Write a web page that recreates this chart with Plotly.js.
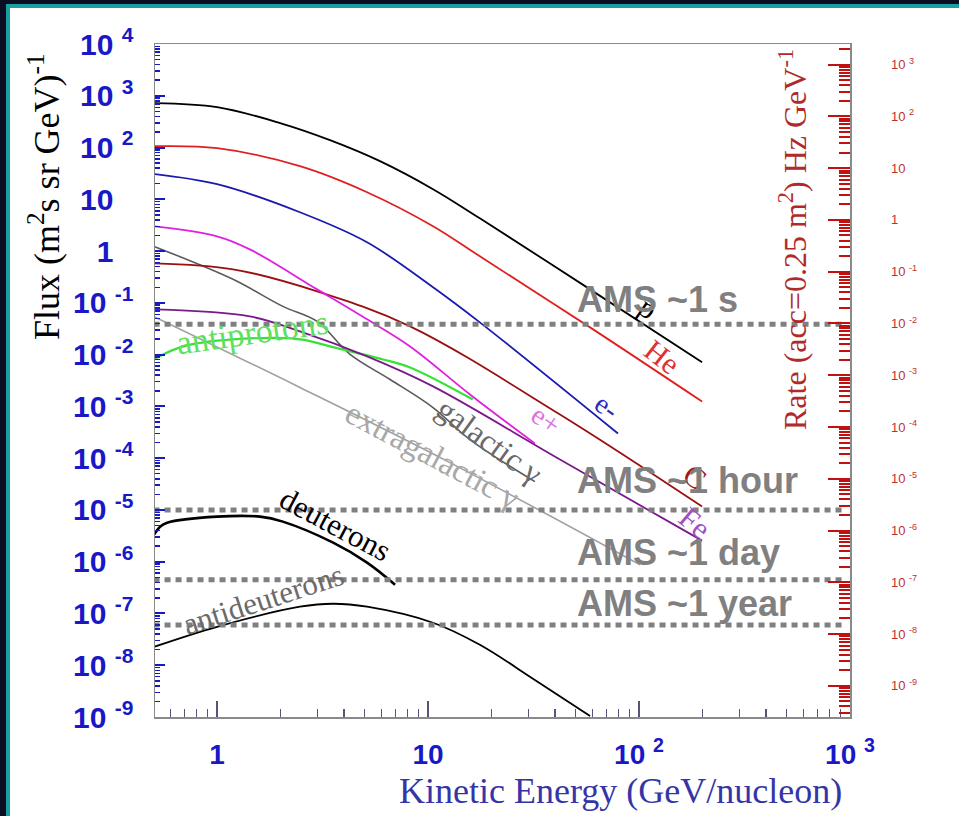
<!DOCTYPE html>
<html>
<head>
<meta charset="utf-8">
<script src="https://cdn.plot.ly/plotly-3.0.1.min.js"></script>
<style>
  html, body { margin: 0; padding: 0; background: #ffffff; }
  #chart { width: 959px; height: 816px; }
</style>
</head>
<body>
<div id="chart"></div>
<script>
// Cosmic-ray fluxes versus kinetic energy (GeV/nucleon)
const energyProton = [0.5, 1, 1.99, 3.43, 5.92, 10.56, 17.6, 58.6, 199];
const fluxProton   = [723, 604, 297, 139, 54.6, 15.7, 4.3, 0.182, 0.0071];

const energyHelium = [0.5, 1, 2.47, 5.14, 10.56, 17.6, 58.6, 199];
const fluxHelium   = [106, 97.3, 43.6, 13.7, 3.02, 0.792, 0.0336, 0.00124];

const energyElectron = [0.5, 1, 2.47, 5.14, 10.56, 17.6, 79.5];
const fluxElectron   = [31, 19.6, 5.62, 1.48, 0.2, 0.042, 2.99e-4];

const energyPositron = [0.5, 1, 1.43, 2.98, 5.14, 8.22, 15.8, 32.1];
const fluxPositron   = [3.02, 1.93, 1.08, 0.182, 0.048, 0.0144, 0.0017, 1.92e-4];

const energyCarbon = [0.5, 1.19, 2.98, 8.22, 42.2, 199];
const fluxCarbon   = [0.581, 0.445, 0.167, 0.0351, 6.97e-4, 1.16e-5];

const energyIron = [0.5, 1.43, 2.47, 5.14, 10.56, 42.2, 199];
const fluxIron   = [0.0748, 0.0548, 0.0281, 0.00923, 0.00243, 9.4e-5, 2.55e-6];

const energyAntiproton = [0.5, 0.69, 1.19, 2.47, 3.43, 6.12, 8.22, 16.3];
const fluxAntiproton   = [0.00807, 0.0144, 0.0197, 0.0197, 0.0144, 0.00807, 0.00565, 0.00136];

const energyGalGamma = [0.5, 1.19, 2.05, 2.98, 4.27, 6.61, 10.56, 15.8, 32.1];
const fluxGalGamma   = [1.24, 0.285, 0.0855, 0.0438, 0.0101, 0.00331, 9.5e-4, 2.29e-4, 3.52e-5];

const energyExGamma = [0.5, 2.47, 12.7, 101];
const fluxExGamma   = [0.0548, 0.00232, 8.2e-5, 8.75e-7];

const energyDeuteron = [0.503, 0.537, 0.58, 1, 1.6, 2.05, 3.55, 5.14, 6.98];
const fluxDeuteron   = [3.33e-6, 4.75e-6, 5.67e-6, 7.41e-6, 7.41e-6, 5.94e-6, 2.33e-6, 9.6e-7, 3.59e-7];

const energyAntiDeuteron = [0.503, 1, 2.47, 3.55, 5.14, 10.56, 17.6, 32.1, 58.6];
const fluxAntiDeuteron   = [2.27e-8, 5.53e-8, 1.35e-7, 1.54e-7, 1.35e-7, 6.61e-8, 2.48e-8, 5.2e-9, 1.05e-9];

// AMS exposure levels (flux reachable in a given time)
const amsLabels = ['AMS ~1 s', 'AMS ~1 hour', 'AMS ~1 day', 'AMS ~1 year'];
const amsFlux   = [0.0384, 1.0e-5, 4.5e-7, 6.0e-8];
const amsEnergySpan = [0.5, 930];

// Axis ticks
const xTickVals = [1, 10, 100, 1000];
const xTickText = ['1', '10', '10 <sup>2</sup>', '10 <sup>3</sup>'];
const yTickVals = [1e4, 1e3, 1e2, 1e1, 1, 1e-1, 1e-2, 1e-3, 1e-4, 1e-5, 1e-6, 1e-7, 1e-8, 1e-9];
const blankSup = "<sup><span style='color:#ffffff'>4</span></sup>";
const yTickText = ['10 <sup>4</sup>', '10 <sup>3</sup>', '10 <sup>2</sup>', '10 ' + blankSup, '1 ' + blankSup,
  '10 <sup>-1</sup>', '10 <sup>-2</sup>', '10 <sup>-3</sup>', '10 <sup>-4</sup>', '10 <sup>-5</sup>',
  '10 <sup>-6</sup>', '10 <sup>-7</sup>', '10 <sup>-8</sup>', '10 <sup>-9</sup>'];
const rateTickVals = [1e3, 1e2, 1e1, 1, 1e-1, 1e-2, 1e-3, 1e-4, 1e-5, 1e-6, 1e-7, 1e-8, 1e-9];
const rateTickText = ['10 <sup>3</sup>', '10 <sup>2</sup>', '10', '1', '10 <sup>-1</sup>', '10 <sup>-2</sup>',
  '10 <sup>-3</sup>', '10 <sup>-4</sup>', '10 <sup>-5</sup>', '10 <sup>-6</sup>', '10 <sup>-7</sup>',
  '10 <sup>-8</sup>', '10 <sup>-9</sup>'];
const acceptance = 0.25; // m^2 sr, converts flux to rate

function curve(x, y, color, width) {
  return {
    type: 'scatter', mode: 'lines', x: x, y: y, hoverinfo: 'skip',
    line: { color: color, width: width, shape: 'spline', smoothing: 1.0 }
  };
}

const traces = [
  curve(energyExGamma, fluxExGamma, '#a0a0a0', 1.6),
  curve(energyGalGamma, fluxGalGamma, '#5a5a5a', 1.6),
  curve(energyAntiproton, fluxAntiproton, '#38e038', 2.2),
  curve(energyIron, fluxIron, '#7a1a8a', 1.8),
  curve(energyCarbon, fluxCarbon, '#9a1010', 1.8),
  curve(energyPositron, fluxPositron, '#e020e0', 1.8),
  curve(energyElectron, fluxElectron, '#1a1ab0', 1.8),
  curve(energyHelium, fluxHelium, '#e02020', 1.8),
  curve(energyProton, fluxProton, '#000000', 1.8),
  curve(energyDeuteron, fluxDeuteron, '#000000', 2.6),
  curve(energyAntiDeuteron, fluxAntiDeuteron, '#000000', 1.8)
];

amsFlux.forEach(function (f) {
  traces.push({
    type: 'scatter', mode: 'lines', hoverinfo: 'skip',
    x: amsEnergySpan, y: [f, f],
    line: { color: '#808080', width: 5, dash: '6px,5px' }
  });
});

// right-hand rate axis carrier
traces.push({ type: 'scatter', mode: 'lines', x: [], y: [], yaxis: 'y2', hoverinfo: 'skip' });

const L = 155, R = 850, T = 44, B = 717;
const px = function (v) { return (v - L) / (R - L); };
const py = function (v) { return (B - v) / (B - T); };

const serif = 'Liberation Serif, Times New Roman, serif';
const sans = 'Liberation Sans, Arial, sans-serif';

function label(text, xlog, ylog, color, size, angle) {
  return {
    xref: 'x', yref: 'y', x: xlog, y: ylog, text: text, showarrow: false,
    textangle: angle, xanchor: 'center', yanchor: 'middle',
    font: { family: serif, size: size, color: color }
  };
}
function amsLabel(text, ylog) {
  return {
    xref: 'x', yref: 'y', x: 1.697, y: ylog, text: text, showarrow: false,
    xanchor: 'left', yanchor: 'middle',
    font: { family: sans, size: 36, color: '#808080', weight: 'bold' }
  };
}

const annotations = [
  label('p', 2.043, -1.087, '#000000', 30, 35),
  label('He', 2.109, -2.035, '#e03030', 30, 38),
  label('e-', 1.848, -3.002, '#2a2ac0', 28, 35),
  label('e+', 1.559, -3.253, '#e070e0', 28, 35),
  label('C', 2.265, -4.356, '#a01818', 30, 35),
  label('Fe', 2.265, -5.246, '#a050c0', 30, 40),
  label('galactic \u03b3', 1.294, -3.660, '#6a6a6a', 32, 36),
  label('extragalactic \u03b3', 1.019, -3.930, '#a8a8a8', 33, 28),
  label('antiprotons', 0.166, -1.571, '#60e060', 34, -8),
  label('deuterons', 0.559, -5.284, '#000000', 31, 28),
  label('antideuterons', 0.218, -6.735, '#6a6a6a', 31, -18),
  amsLabel(amsLabels[0], -0.932),
  amsLabel(amsLabels[1], -4.433),
  amsLabel(amsLabels[2], -5.826),
  amsLabel(amsLabels[3], -6.812),
  {
    xref: 'paper', yref: 'paper', x: px(45), y: py(197), textangle: -90, showarrow: false,
    xanchor: 'center', yanchor: 'middle',
    text: 'Flux (m<sup>2</sup>s sr GeV)<sup>-1</sup>',
    font: { family: serif, size: 36, color: '#000000' }
  },
  {
    xref: 'paper', yref: 'paper', x: px(620), y: py(791), showarrow: false,
    xanchor: 'center', yanchor: 'middle',
    text: 'Kinetic Energy (GeV/nucleon)',
    font: { family: serif, size: 36, color: '#3535a8' }
  },
  {
    xref: 'paper', yref: 'paper', x: px(793), y: py(240), textangle: -90, showarrow: false,
    xanchor: 'center', yanchor: 'middle',
    text: 'Rate (acc=0.25 m<sup>2</sup>) Hz GeV<sup>-1</sup>',
    font: { family: serif, size: 32, color: '#b02a2a' }
  }
];

// dark and teal frame along the left and top edges
const shapes = [
  { type: 'rect', xref: 'paper', yref: 'paper', x0: px(0), x1: px(6), y0: py(816), y1: py(0), fillcolor: '#0b0d22', line: { width: 0 }, layer: 'below' },
  { type: 'rect', xref: 'paper', yref: 'paper', x0: px(6), x1: px(10), y0: py(816), y1: py(4), fillcolor: '#1a9ea0', line: { width: 0 }, layer: 'below' },
  { type: 'rect', xref: 'paper', yref: 'paper', x0: px(0), x1: px(959), y0: py(4), y1: py(0), fillcolor: '#0b0d22', line: { width: 0 }, layer: 'below' },
  { type: 'rect', xref: 'paper', yref: 'paper', x0: px(6), x1: px(959), y0: py(8), y1: py(4), fillcolor: '#1a9ea0', line: { width: 0 }, layer: 'below' }
];

const layout = {
  width: 959, height: 816,
  margin: { l: L, r: 959 - R, t: T, b: 816 - B, pad: 0 },
  paper_bgcolor: '#ffffff', plot_bgcolor: '#ffffff',
  showlegend: false,
  xaxis: {
    type: 'log', range: [Math.log10(0.508), 3],
    showgrid: false, zeroline: false,
    showline: true, mirror: true, linecolor: '#8a8a8a', linewidth: 1.5,
    ticks: 'inside', ticklen: 16, tickwidth: 1.5, tickcolor: '#55557a',
    tickmode: 'array', tickvals: xTickVals, ticktext: xTickText,
    ticklabelstandoff: 12,
    tickfont: { family: sans, size: 28, color: '#1818c8', weight: 'bold' },
    minor: { ticks: 'inside', ticklen: 8, tickwidth: 1.2, tickcolor: '#55557a', dtick: 'D1', showgrid: false }
  },
  yaxis: {
    type: 'log', range: [-9, 4],
    showgrid: false, zeroline: false,
    showline: true, mirror: true, linecolor: '#8a8a8a', linewidth: 1.5,
    ticks: 'inside', ticklen: 10, tickwidth: 2, tickcolor: '#1818c8',
    tickmode: 'array', tickvals: yTickVals, ticktext: yTickText,
    ticklabelstandoff: 14,
    tickfont: { family: sans, size: 30, color: '#1818c8', weight: 'bold' },
    minor: { ticks: 'inside', ticklen: 5, tickwidth: 1.5, tickcolor: '#1818c8', dtick: 'D1', showgrid: false }
  },
  yaxis2: {
    type: 'log', overlaying: 'y', side: 'right',
    range: [-9 + Math.log10(acceptance), 4 + Math.log10(acceptance)],
    showgrid: false, zeroline: false, showline: false,
    ticks: 'inside', ticklen: 22, tickwidth: 2, tickcolor: '#c01010',
    tickmode: 'array', tickvals: rateTickVals, ticktext: rateTickText,
    ticklabelstandoff: 40,
    tickfont: { family: sans, size: 13, color: '#c03030' },
    minor: { ticks: 'inside', ticklen: 11, tickwidth: 2, tickcolor: '#c01010', dtick: 'D1', showgrid: false }
  },
  annotations: annotations,
  shapes: shapes
};

Plotly.newPlot('chart', traces, layout, { displayModeBar: false, staticPlot: true });
</script>
</body>
</html>
